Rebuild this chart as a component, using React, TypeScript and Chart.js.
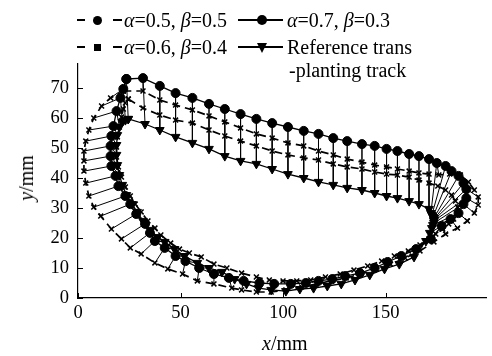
import React, { useEffect, useRef } from "react";
import { Chart, registerables } from "chart.js";
Chart.register(...registerables);

const FONT = '"Liberation Serif", "Times New Roman", serif';

const xTicks = [0, 50, 100, 150];
const yTicks = [0, 10, 20, 30, 40, 50, 60, 70];

// alpha=0.7, beta=0.3 (solid, circles)
const a07X = [23.6, 31.7, 39.9, 47.6, 55.8, 63.9, 71.6, 79.3, 87.0, 94.7, 102.4, 110.1, 117.3, 124.5, 131.3, 138.5, 144.7, 150.5, 155.8, 161.5, 166.3, 171.2, 175.0, 179.3, 182.2, 185.6, 188.0, 189.4, 189.4, 188.0, 185.6, 181.7, 177.4, 172.1, 164.9, 157.7, 151.0, 144.7, 137.5, 130.3, 124.0, 117.3, 111.1, 103.8, 95.7, 88.5, 80.8, 73.6, 66.3, 59.1, 52.4, 47.6, 42.3, 37.5, 35.1, 32.7, 28.4, 25.5, 23.1, 19.7, 18.3, 16.3, 15.9, 15.9, 16.3, 17.3, 18.8, 20.7, 22.1];
const a07Y = [73.0, 73.3, 70.7, 68.3, 66.7, 64.7, 63.0, 61.3, 59.7, 58.3, 57.0, 55.7, 54.7, 53.3, 52.3, 51.3, 50.7, 49.7, 49.0, 48.0, 47.3, 46.3, 45.0, 44.0, 42.3, 40.7, 38.3, 36.3, 33.3, 31.3, 28.3, 26.3, 24.0, 19.7, 16.3, 14.0, 12.0, 10.0, 8.3, 7.3, 6.3, 5.7, 5.0, 4.7, 4.7, 5.0, 5.7, 6.7, 8.0, 10.0, 12.3, 14.0, 16.7, 19.0, 21.7, 24.7, 28.0, 31.3, 34.0, 37.3, 40.7, 44.0, 47.3, 50.7, 54.0, 57.3, 62.3, 66.7, 69.7];

// Reference trans-planting track (solid, down triangles)
const refX = [24.5, 32.7, 39.9, 47.6, 55.8, 63.9, 71.6, 79.3, 87.0, 94.7, 102.4, 110.1, 117.3, 124.5, 131.3, 138.5, 144.7, 150.5, 155.8, 161.5, 166.3, 171.2, 172.1, 172.6, 173.1, 173.6, 173.6, 173.6, 173.6, 173.6, 173.1, 172.6, 171.6, 169.7, 163.9, 156.7, 149.5, 142.3, 135.1, 128.4, 121.6, 114.9, 108.2, 101.4, 94.2, 88.0, 82.2, 76.4, 70.2, 63.9, 58.2, 51.9, 47.1, 42.3, 38.9, 35.1, 31.7, 28.8, 26.4, 23.6, 21.6, 20.2, 19.2, 18.8, 18.8, 19.2, 20.2, 21.6, 23.1];
const refY = [59.7, 58.0, 56.0, 53.7, 51.7, 49.7, 47.3, 45.7, 44.7, 43.0, 41.3, 40.0, 38.7, 37.7, 36.7, 36.0, 35.0, 34.0, 33.3, 32.3, 31.3, 29.7, 28.3, 27.7, 27.0, 26.7, 26.3, 26.0, 25.7, 25.0, 24.3, 23.3, 21.7, 19.0, 13.7, 11.3, 9.7, 7.7, 6.0, 4.7, 4.0, 3.3, 3.0, 2.3, 2.7, 3.3, 4.7, 6.3, 8.7, 10.0, 11.7, 14.0, 16.3, 18.7, 20.3, 22.7, 25.7, 28.7, 31.3, 34.3, 37.7, 41.0, 44.3, 47.7, 51.0, 54.3, 57.0, 58.7, 59.3];

// alpha=0.5, beta=0.5 (dashed)
const a05X = [22.1, 31.7, 39.9, 47.6, 55.8, 63.9, 71.6, 79.3, 87.0, 94.7, 102.4, 110.1, 117.3, 124.5, 131.3, 138.5, 144.7, 150.5, 155.8, 161.5, 166.3, 171.2, 176.0, 181.3, 186.5, 190.4, 193.3, 195.2, 195.2, 193.3, 189.9, 185.1, 179.3, 173.6, 166.8, 159.6, 152.4, 145.2, 138.0, 130.8, 123.6, 116.3, 109.1, 101.4, 94.2, 87.0, 79.8, 75.0, 66.3, 58.2, 51.0, 43.8, 37.5, 30.8, 25.5, 21.2, 16.3, 11.1, 7.7, 5.3, 3.8, 2.9, 2.9, 2.9, 3.8, 5.3, 7.7, 11.5, 15.9];
const a05Y = [69.0, 69.0, 66.0, 64.3, 62.7, 60.7, 58.7, 56.7, 54.7, 53.3, 51.7, 50.7, 49.0, 47.7, 46.3, 45.3, 44.3, 43.7, 43.0, 42.3, 41.7, 41.3, 41.0, 41.3, 41.0, 38.7, 36.0, 33.7, 31.0, 28.3, 25.7, 23.3, 21.3, 18.7, 15.7, 13.3, 11.3, 9.7, 8.0, 6.7, 5.7, 4.7, 3.7, 2.7, 2.0, 2.0, 2.7, 3.3, 4.7, 5.7, 8.0, 9.7, 11.7, 14.7, 16.7, 19.7, 23.0, 27.3, 30.3, 34.0, 38.3, 42.3, 45.7, 49.0, 52.3, 56.0, 60.0, 64.0, 66.7];

// alpha=0.6, beta=0.4 (dashed)
const a06X = [24.5, 31.7, 39.9, 47.6, 55.8, 63.9, 71.6, 79.3, 87.0, 94.7, 102.4, 110.1, 117.3, 124.5, 131.3, 138.5, 144.7, 150.5, 155.8, 161.5, 166.3, 171.2, 175.5, 179.3, 182.2, 184.1, 185.1, 184.6, 183.2, 180.8, 177.9, 174.5, 171.2, 166.8, 161.1, 154.3, 148.1, 141.3, 134.6, 127.9, 120.7, 113.5, 106.7, 100.0, 93.3, 87.0, 79.8, 72.6, 66.3, 60.1, 54.3, 49.5, 45.2, 40.4, 37.5, 34.1, 30.8, 27.9, 25.5, 23.1, 21.2, 19.7, 18.8, 18.8, 19.2, 20.2, 21.2, 22.1, 23.1];
const a06Y = [66.3, 63.3, 61.0, 59.3, 58.3, 56.0, 54.0, 52.3, 50.7, 49.0, 47.7, 46.7, 46.0, 44.7, 43.7, 43.0, 42.0, 41.3, 41.0, 40.3, 39.3, 38.3, 37.3, 36.0, 34.3, 32.3, 30.3, 28.3, 26.3, 24.7, 23.0, 21.3, 19.7, 17.7, 15.7, 14.0, 12.3, 10.7, 9.3, 8.0, 7.0, 6.0, 5.7, 5.7, 6.0, 7.0, 8.3, 10.0, 11.3, 13.7, 15.0, 16.3, 18.3, 21.0, 23.3, 25.7, 28.7, 31.3, 34.0, 37.0, 40.3, 43.7, 47.0, 50.3, 53.7, 57.0, 60.3, 63.0, 65.0];

const loop = (xs: number[], ys: number[]) => {
  const p = xs.map((x, i) => ({ x, y: ys[i] }));
  return [...p, p[0]];
};

const connectors = () => {
  const out: { x: number; y: number }[] = [];
  a07X.forEach((_, i) => {
    out.push({ x: a05X[i], y: a05Y[i] });
    out.push({ x: a07X[i], y: a07Y[i] });
    out.push({ x: refX[i], y: refY[i] });
    out.push({ x: NaN, y: NaN });
  });
  return out;
};

const inTicks = {
  id: "inTicks",
  afterDraw(chart: any) {
    const { ctx, chartArea, scales } = chart;
    ctx.save();
    ctx.strokeStyle = "#000";
    ctx.lineWidth = 1;
    xTicks.forEach((v) => {
      const px = Math.round(scales.x.getPixelForValue(v)) + 0.5;
      ctx.beginPath();
      ctx.moveTo(px, chartArea.bottom);
      ctx.lineTo(px, chartArea.bottom - 5);
      ctx.stroke();
    });
    yTicks.forEach((v) => {
      const py = Math.round(scales.y.getPixelForValue(v)) + 0.5;
      ctx.beginPath();
      ctx.moveTo(chartArea.left, py);
      ctx.lineTo(chartArea.left + 5, py);
      ctx.stroke();
    });
    ctx.restore();
  },
};

const abs = (s: React.CSSProperties): React.CSSProperties => ({ position: "absolute", ...s });

export default function App() {
  const ref = useRef<HTMLCanvasElement>(null);
  useEffect(() => {
    if (!ref.current) return;
    const tickFont = { family: FONT, size: 18.5 };
    const chart = new Chart(ref.current, {
      type: "scatter",
      data: {
        datasets: [
          {
            data: connectors(),
            showLine: true,
            spanGaps: false,
            borderColor: "#000",
            borderWidth: 1,
            pointRadius: 0,
          },
          {
            data: loop(a05X, a05Y),
            showLine: true,
            borderColor: "#000",
            borderWidth: 1.7,
            borderDash: [8, 5],
            pointStyle: "crossRot",
            pointRadius: 3.5,
            pointBorderWidth: 1.5,
            pointBorderColor: "#000",
          },
          {
            data: loop(a06X, a06Y),
            showLine: true,
            borderColor: "#000",
            borderWidth: 1.7,
            borderDash: [8, 5],
            pointStyle: "crossRot",
            pointRadius: 3.5,
            pointBorderWidth: 1.5,
            pointBorderColor: "#000",
          },
          {
            data: loop(refX, refY),
            showLine: true,
            borderColor: "#000",
            borderWidth: 1.3,
            pointStyle: "triangle",
            rotation: 180,
            pointRadius: 5,
            pointBackgroundColor: "#000",
            pointBorderColor: "#000",
            pointBorderWidth: 1,
          },
          {
            data: loop(a07X, a07Y),
            showLine: true,
            borderColor: "#000",
            borderWidth: 1.3,
            pointStyle: "circle",
            pointRadius: 4.5,
            pointBackgroundColor: "#000",
            pointBorderColor: "#000",
            pointBorderWidth: 1,
          },
        ],
      },
      options: {
        animation: false,
        responsive: false,
        devicePixelRatio: 1,
        layout: { padding: { top: 64, left: 0, right: 0, bottom: 0 } },
        plugins: { legend: { display: false }, tooltip: { enabled: false } },
        scales: {
          x: {
            type: "linear",
            min: 0,
            max: 199,
            afterBuildTicks: (s: any) => {
              s.ticks = xTicks.map((v) => ({ value: v }));
            },
            afterFit: (s: any) => {
              s.height = 58;
            },
            grid: { display: false, drawTicks: false },
            border: { display: true, color: "#000", width: 1.2 },
            ticks: { color: "#000", font: tickFont, padding: 4, maxRotation: 0 },
          },
          y: {
            type: "linear",
            min: 0,
            max: 78,
            afterBuildTicks: (s: any) => {
              s.ticks = yTicks.map((v) => ({ value: v }));
            },
            afterFit: (s: any) => {
              s.width = 78;
            },
            grid: { display: false, drawTicks: false },
            border: { display: true, color: "#000", width: 1.2 },
            ticks: { color: "#000", font: tickFont, padding: 9 },
          },
        },
      },
      plugins: [inTicks],
    });
    return () => chart.destroy();
  }, []);

  const txt: React.CSSProperties = {
    position: "absolute",
    fontFamily: FONT,
    fontSize: 20,
    lineHeight: "24px",
    color: "#000",
    whiteSpace: "nowrap",
  };

  return (
    <div style={abs({ left: 0, top: 0, width: 492, height: 356, background: "#fff" })}>
      <canvas ref={ref} width={492} height={356} style={{ display: "block" }} />
      {/* legend row 1 */}
      <div style={abs({ left: 77, top: 18.7, width: 8, height: 2.6, background: "#000" })} />
      <div style={abs({ left: 92.5, top: 15.5, width: 9, height: 9, borderRadius: "50%", background: "#000" })} />
      <div style={abs({ left: 113, top: 18.7, width: 9, height: 2.6, background: "#000" })} />
      <div style={{ ...txt, left: 124, top: 8 }}>
        <i>α</i>=0.5, <i>β</i>=0.5
      </div>
      <div style={abs({ left: 238, top: 19.3, width: 45, height: 1.5, background: "#000" })} />
      <div style={abs({ left: 257, top: 15, width: 10, height: 10, borderRadius: "50%", background: "#000" })} />
      <div style={{ ...txt, left: 287, top: 8 }}>
        <i>α</i>=0.7, <i>β</i>=0.3
      </div>
      {/* legend row 2 */}
      <div style={abs({ left: 77, top: 45.7, width: 8, height: 2.6, background: "#000" })} />
      <div style={abs({ left: 93.5, top: 43.5, width: 7, height: 7, background: "#000" })} />
      <div style={abs({ left: 113, top: 45.7, width: 9, height: 2.6, background: "#000" })} />
      <div style={{ ...txt, left: 124, top: 35 }}>
        <i>α</i>=0.6, <i>β</i>=0.4
      </div>
      <div style={abs({ left: 238, top: 46.3, width: 45, height: 1.5, background: "#000" })} />
      <div
        style={abs({
          left: 256.5,
          top: 42.5,
          width: 0,
          height: 0,
          borderLeft: "5.5px solid transparent",
          borderRight: "5.5px solid transparent",
          borderTop: "10px solid #000",
        })}
      />
      <div style={{ ...txt, left: 287, top: 35 }}>Reference trans</div>
      <div style={{ ...txt, left: 289, top: 58 }}>-planting track</div>
      {/* axis titles */}
      <div style={{ ...txt, left: 262, top: 331 }}>
        <i>x</i>/mm
      </div>
      <div
        style={{
          ...txt,
          left: 26,
          top: 178,
          transform: "translate(-50%, -50%) rotate(-90deg)",
        }}
      >
        <i>y</i>/mm
      </div>
    </div>
  );
}
